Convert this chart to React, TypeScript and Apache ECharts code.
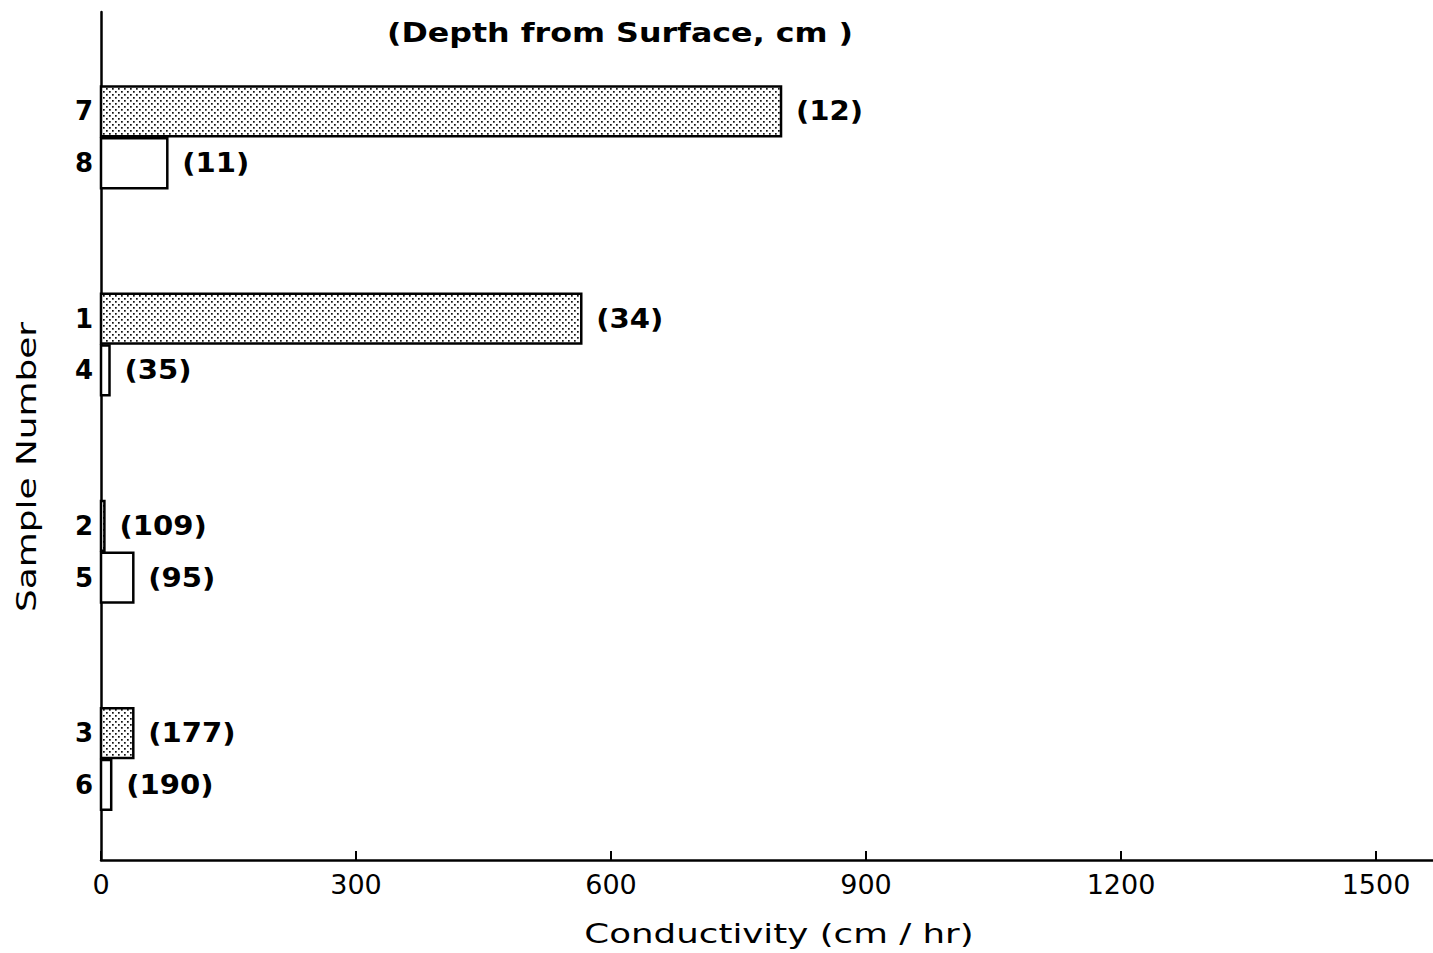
import React, { useEffect, useRef } from "react";
import * as echarts from "echarts";

const samples = ["7", "8", "1", "4", "2", "5", "3", "6"];
const slots = [2, 3, 6, 7, 10, 11, 14, 15];
const conductivity = [800, 78, 565, 10, 4, 38, 38, 12];
const depthsCm = [12, 11, 34, 35, 109, 95, 177, 190];
const shaded = [true, false, true, false, true, false, true, false];
const xTicks = [0, 300, 600, 900, 1200, 1500];

const FONT = '"DejaVu Sans", sans-serif';

function makePattern() {
  const c = document.createElement("canvas");
  c.width = 6;
  c.height = 6;
  const ctx = c.getContext("2d")!;
  ctx.fillStyle = "#ffffff";
  ctx.fillRect(0, 0, 6, 6);
  ctx.fillStyle = "#111111";
  ctx.fillRect(1, 1, 1.7, 1.7);
  ctx.fillRect(4, 4, 1.7, 1.7);
  return { image: c, repeat: "repeat" } as any;
}

function centeredText(text: string, x: number, y: number, font: string, scaleX: number, rotation = 0) {
  return {
    type: "text",
    x,
    y,
    rotation,
    scaleX,
    style: {
      text,
      font,
      fill: "#000",
      align: "center",
      verticalAlign: "middle",
      textAlign: "center",
      textVerticalAlign: "middle",
    },
  };
}

export default function App() {
  const ref = useRef<HTMLDivElement>(null);
  useEffect(() => {
    if (!ref.current) return;
    const chart = echarts.init(ref.current, null, { renderer: "svg" });
    const pattern = makePattern();
    const data = samples.map((s, i) => [conductivity[i], slots[i], i]);
    chart.setOption({
      animation: false,
      backgroundColor: "#ffffff",
      grid: { left: 101, right: 0, top: 12, bottom: 93, containLabel: false },
      xAxis: {
        type: "value",
        min: 0,
        max: 1567,
        interval: 300,
        axisLine: { show: true, lineStyle: { color: "#000", width: 2.5 } },
        axisTick: { show: true, inside: true, length: 9, lineStyle: { color: "#000", width: 2 } },
        axisLabel: {
          color: "#000",
          fontSize: 27,
          fontFamily: FONT,
          margin: 11,
          showMaxLabel: false,
          formatter: (v: number) => (xTicks.includes(v) ? String(v) : ""),
        },
        splitLine: { show: false },
      },
      yAxis: {
        type: "value",
        inverse: true,
        min: 0.08,
        max: 16.45,
        axisLine: { show: true, lineStyle: { color: "#000", width: 2.5 } },
        axisTick: { show: false },
        axisLabel: { show: false },
        splitLine: { show: false },
      },
      graphic: [
        centeredText("(Depth from Surface, cm )", 620, 33, `bold 26px ${FONT}`, 1.22),
        centeredText("Conductivity (cm / hr)", 779, 934, `27px ${FONT}`, 1.32),
        centeredText("Sample Number", 27, 467, `26px ${FONT}`, 1.38, Math.PI / 2),
      ],
      series: [
        {
          type: "custom",
          data,
          encode: { x: 0, y: 1 },
          renderItem: (params: any, api: any) => {
            const v = api.value(0);
            const p = api.value(1);
            const idx = api.value(2);
            const start = api.coord([0, p]);
            const end = api.coord([v, p]);
            const bh = api.size([0, 1])[1] - 2;
            return {
              type: "group",
              children: [
                {
                  type: "rect",
                  shape: { x: start[0], y: start[1] - bh / 2, width: end[0] - start[0], height: bh },
                  style: { fill: shaded[idx] ? pattern : "#ffffff", stroke: "#000", lineWidth: 2.5 },
                },
                {
                  type: "text",
                  x: end[0] + 15,
                  y: start[1],
                  scaleX: 1.12,
                  style: {
                    text: `(${depthsCm[idx]})`,
                    font: `bold 26px ${FONT}`,
                    fill: "#000",
                    align: "left",
                    verticalAlign: "middle",
                    textAlign: "left",
                    textVerticalAlign: "middle",
                  },
                },
                {
                  type: "text",
                  x: start[0] - 8,
                  y: start[1],
                  style: {
                    text: samples[idx],
                    font: `bold 26px ${FONT}`,
                    fill: "#000",
                    align: "right",
                    verticalAlign: "middle",
                    textAlign: "right",
                    textVerticalAlign: "middle",
                  },
                },
              ],
            };
          },
        },
      ],
    });
    return () => chart.dispose();
  }, []);
  return (
    <div
      ref={ref}
      style={{ position: "absolute", left: 0, top: 0, width: 1433, height: 953, background: "#fff" }}
    />
  );
}
